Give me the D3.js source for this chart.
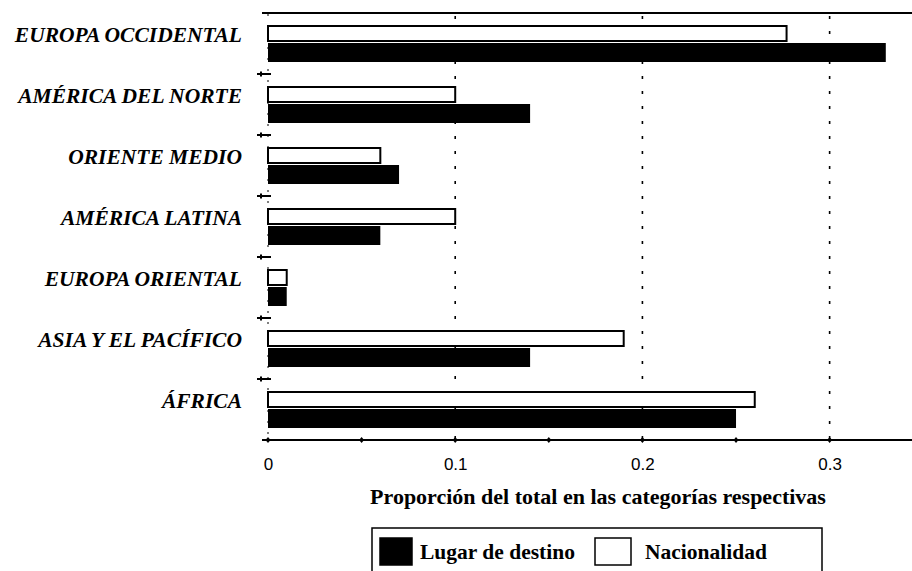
<!DOCTYPE html>
<html>
<head>
<meta charset="utf-8">
<script src="https://cdn.jsdelivr.net/npm/d3@7"></script>
<style>
  body { margin: 0; background: #fff; }
  svg { display: block; }
</style>
</head>
<body>
<script>
  // data
  let regions = ["EUROPA OCCIDENTAL", "AMÉRICA DEL NORTE", "ORIENTE MEDIO",
    "AMÉRICA LATINA", "EUROPA ORIENTAL", "ASIA Y EL PACÍFICO", "ÁFRICA"];
  let destino = [0.33, 0.14, 0.07, 0.06, 0.01, 0.14, 0.25];
  let nacionalidad = [0.277, 0.1, 0.06, 0.1, 0.01, 0.19, 0.26];
  let tickVals = [0, 0.1, 0.2, 0.3];
  let minorTicks = [0.05, 0.15, 0.25];
  let seriesNames = ["Lugar de destino", "Nacionalidad"];

  let width = 912, height = 571;
  let svg = d3.select("body").append("svg")
    .attr("width", width).attr("height", height);

  let x = d3.scaleLinear().domain([0, 0.344]).range([268, 912]);
  let y = d3.scaleBand().domain(regions).range([13, 440]);

  // top border line
  svg.append("line")
    .attr("x1", 262).attr("x2", width)
    .attr("y1", 13).attr("y2", 13)
    .style("stroke", "#000").style("stroke-width", 2);

  // dotted grid at 0.1, 0.2, 0.3
  svg.append("g")
    .selectAll("line")
    .data(tickVals.slice(1))
    .enter()
    .append("line")
      .attr("x1", d => x(d)).attr("x2", d => x(d))
      .attr("y1", 16).attr("y2", 440)
      .style("stroke", "#000")
      .style("stroke-width", 1.6)
      .style("stroke-dasharray", "3,12");

  // faint dotted y axis
  svg.append("line")
    .attr("x1", x(0)).attr("x2", x(0))
    .attr("y1", 14).attr("y2", 440)
    .style("stroke", "#000").style("stroke-width", 1)
    .style("stroke-dasharray", "2,9");

  // little arrow ticks between groups on the left
  svg.append("g")
    .selectAll("path")
    .data(regions.slice(1))
    .enter()
    .append("path")
      .attr("d", d => {
        let yy = y(d);
        return "M" + (x(0) - 11) + "," + yy + "L" + (x(0) + 3) + "," + yy
          + "M" + (x(0) - 7) + "," + (yy - 2.5) + "L" + (x(0) - 7) + "," + (yy + 2.5);
      })
      .style("stroke", "#000").style("stroke-width", 2).style("fill", "none");

  // Nacionalidad bars (white with outline)
  svg.append("g")
    .selectAll("rect")
    .data(nacionalidad)
    .enter()
    .append("rect")
      .attr("x", x(0))
      .attr("y", (d, i) => y(regions[i]) + 13)
      .attr("width", d => x(d) - x(0))
      .attr("height", 15)
      .style("fill", "#fff")
      .style("stroke", "#000")
      .style("stroke-width", 2);

  // Lugar de destino bars (black)
  svg.append("g")
    .selectAll("rect")
    .data(destino)
    .enter()
    .append("rect")
      .attr("x", x(0))
      .attr("y", (d, i) => y(regions[i]) + 30)
      .attr("width", d => x(d) - x(0))
      .attr("height", 19)
      .style("fill", "#000");

  // category labels
  svg.append("g")
    .selectAll("text")
    .data(regions)
    .enter()
    .append("text")
      .text(d => d)
      .attr("x", 242)
      .attr("y", d => y(d) + y.bandwidth() / 2 - 2)
      .attr("text-anchor", "end")
      .style("font-family", "'Liberation Serif', serif")
      .style("font-weight", "bold")
      .style("font-style", "italic")
      .style("font-size", "21.5px")
      .style("fill", "#000");

  // bottom axis
  let axis = d3.axisBottom(x)
    .tickValues(tickVals)
    .tickFormat(d => d === 0 ? "0" : d3.format(".1f")(d))
    .tickSize(0)
    .tickPadding(18);
  let ax = svg.append("g")
    .attr("transform", "translate(0,440)")
    .call(axis);
  ax.select(".domain").remove();
  ax.append("line")
    .attr("x1", 262).attr("x2", width)
    .style("stroke", "#000").style("stroke-width", 2);
  ax.selectAll("text")
    .style("font-family", "'Liberation Sans', sans-serif")
    .style("font-size", "17px")
    .style("fill", "#000");
  ax.selectAll(".minor")
    .data(minorTicks.concat(tickVals))
    .enter()
    .append("path")
      .attr("class", "minor")
      .attr("d", d => "M" + x(d) + ",-3L" + (x(d) + 2.5) + ",0L" + x(d) + ",3L" + (x(d) - 2.5) + ",0Z")
      .style("fill", "#000");

  // axis title
  svg.append("text")
    .text("Proporción del total en las categorías respectivas")
    .attr("x", 598).attr("y", 504)
    .attr("text-anchor", "middle")
    .style("font-family", "'Liberation Serif', serif")
    .style("font-weight", "bold")
    .style("font-size", "22px")
    .style("fill", "#000");

  // legend
  let legend = svg.append("g");
  legend.append("rect")
    .attr("x", 372).attr("y", 528)
    .attr("width", 450).attr("height", 60)
    .style("fill", "none").style("stroke", "#000").style("stroke-width", 1.5);
  let lx = [380, 595];
  let tx = [420, 645];
  legend.selectAll(".sw")
    .data(seriesNames)
    .enter()
    .append("rect")
      .attr("class", "sw")
      .attr("x", (d, i) => lx[i])
      .attr("y", 538)
      .attr("width", (d, i) => i === 0 ? 32 : 36)
      .attr("height", 27)
      .style("fill", (d, i) => i === 0 ? "#000" : "#fff")
      .style("stroke", "#000").style("stroke-width", 1.5);
  legend.selectAll(".lt")
    .data(seriesNames)
    .enter()
    .append("text")
      .attr("class", "lt")
      .text(d => d)
      .attr("x", (d, i) => tx[i])
      .attr("y", 559)
      .style("font-family", "'Liberation Serif', serif")
      .style("font-weight", "bold")
      .style("font-size", "21.5px")
      .style("fill", "#000");
</script>
</body>
</html>
